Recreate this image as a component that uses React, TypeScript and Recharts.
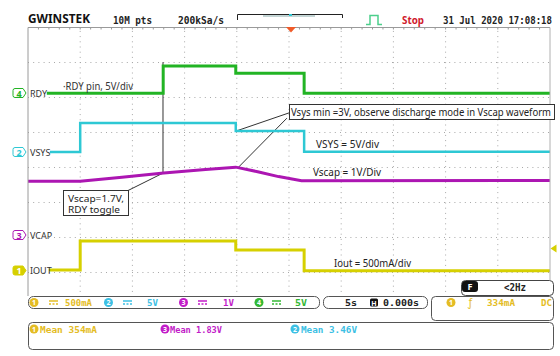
import React from "react";
import { ComposedChart, Line, XAxis, YAxis, ReferenceLine } from "recharts";

// time in seconds (5 s/div, trigger at 0), level in screen divisions (0 = bottom of graticule)
const rdyTime = [-23.2, -12.05, -12.05, -5.1, -5.1, 1.45, 1.45, 25];
const rdyLevel = [6.12, 6.12, 6.9, 6.9, 6.69, 6.69, 6.12, 6.12];

const vsysTime = [-22.9, -20, -20, -5.1, -5.1, 1.45, 1.45, 25];
const vsysLevel = [4.44, 4.44, 5.27, 5.27, 5.04, 5.04, 4.45, 4.45];

const vcapTime = [-25, -20, -16, -12, -8, -5.1, -3, -1, 1.2, 25];
const vcapLevel = [3.61, 3.61, 3.72, 3.84, 3.94, 4.01, 3.88, 3.74, 3.62, 3.63];

const ioutTime = [-23, -20, -20, -5.1, -5.1, 1.45, 1.45, 25];
const ioutLevel = [1.07, 1.07, 1.9, 1.9, 1.64, 1.64, 1.05, 1.05];

const gridTimes = [-20, -15, -10, -5, 0, 5, 10, 15, 20];
const gridLevels = [1, 2, 3, 4, 5, 6, 7];

const toRows = (t: number[], v: number[]) => t.map((x, i) => ({ t: x, v: v[i] }));

const GREEN = "#22b424";
const CYAN = "#2ec8d4";
const MAGENTA = "#ac16b2";
const YELLOW = "#d6d000";
const TXT_Y = "#e4bc24";
const TXT_C = "#3cc0e4";
const TXT_M = "#c21cc8";
const TXT_G = "#34b834";

const MONO = "'DejaVu Sans Mono', monospace";
const SANS = "'Noto Sans', sans-serif";

function T(p: {
  x: number; y: number; w?: number; size?: number; fill?: string;
  bold?: boolean; family?: string; anchor?: string; children: React.ReactNode;
}) {
  return (
    <text
      x={p.x}
      y={p.y}
      fontSize={p.size ?? 10}
      fill={p.fill ?? "#222"}
      fontWeight={p.bold ? "bold" : "normal"}
      fontFamily={p.family ?? MONO}
      textAnchor={p.anchor ?? "start"}
      textLength={p.w}
      lengthAdjust={p.w ? "spacingAndGlyphs" : undefined}
    >
      {p.children}
    </text>
  );
}

function Tag({ y, color, label, filled, name }: { y: number; color: string; label: string; filled?: boolean; name: string }) {
  const x = 13;
  const h = 9;
  const d = `M${x + 2},${y - h / 2} H${x + 10} L${x + 13},${y} L${x + 10},${y + h / 2} H${x + 2} Q${x},${y + h / 2} ${x},${y + h / 2 - 2} V${y - h / 2 + 2} Q${x},${y - h / 2} ${x + 2},${y - h / 2} Z`;
  return (
    <g>
      <path d={d} fill={filled ? color : "#fff"} stroke={color} strokeWidth={1} />
      <T x={x + 6} y={y + 3.5} size={9} fill={filled ? "#fff" : color} bold anchor="middle" family={SANS}>{label}</T>
      <T x={x + 17} y={y + 3.5} size={9} fill="#333" family={SANS}>{name}</T>
    </g>
  );
}

function Badge({ x, y, color, n }: { x: number; y: number; color: string; n: string }) {
  return (
    <g>
      <circle cx={x} cy={y} r={4.5} fill={color} />
      <T x={x} y={y + 2.5} size={7} fill="#fff" bold anchor="middle" family={SANS}>{n}</T>
    </g>
  );
}

function Dc({ x, y, color }: { x: number; y: number; color: string }) {
  return (
    <g stroke={color} strokeWidth={1.5}>
      <line x1={x} x2={x + 9} y1={y - 1.5} y2={y - 1.5} />
      <line x1={x} x2={x + 9} y1={y + 1.5} y2={y + 1.5} strokeDasharray="2 1.5" />
    </g>
  );
}

function Overlay() {
  const topTicks: number[] = [];
  for (let i = 1; i < 50; i++) topTicks.push(28 + i * 10.44);
  return (
    <svg width={560} height={356} style={{ position: "absolute", left: 0, top: 0, pointerEvents: "none" }}>
      {/* graticule frame */}
      <line x1={28} x2={550} y1={27.5} y2={27.5} stroke="#9a9a9a" />
      <line x1={28} x2={28} y1={27.5} y2={296} stroke="#9a9a9a" />
      <line x1={550} x2={550} y1={27.5} y2={280} stroke="#b0b0b0" />
      {topTicks.map((x) => (
        <line key={x} x1={x} x2={x} y1={27.5} y2={29.5} stroke="#9a9a9a" />
      ))}

      {/* header */}
      <T x={28} y={23} w={62} size={12} bold family={SANS} fill="#111">GWINSTEK</T>
      <T x={113} y={23.5} w={39} size={10} bold>10M pts</T>
      <T x={178} y={23.5} w={46} size={10} bold>200kSa/s</T>
      <path d="M237.5,20 V14.5 H342.5 V18" fill="none" stroke="#222" strokeWidth={1} />
      <line x1={263} x2={315} y1={16} y2={16} stroke="#8aa" strokeWidth={1} />
      <rect x={289} y={14} width={3} height={2} fill={CYAN} />
      <path d="M366,24.5 H370 V15.5 H378 V24.5 H382" fill="none" stroke="#4ccf8c" strokeWidth={1.5} />
      <T x={402} y={23.5} w={22} size={11} bold fill="#d01a2c" family={SANS}>Stop</T>
      <T x={443} y={23.5} w={109} size={10} bold>31 Jul 2020 17:08:18</T>
      <path d="M286,27 L296,27 L291,32.5 Z" fill="#f05a28" />

      {/* channel ground tags */}
      <Tag y={93} color={GREEN} label="4" name="RDY" />
      <Tag y={152} color={CYAN} label="2" name="VSYS" />
      <Tag y={235} color={MAGENTA} label="3" name="VCAP" />
      <Tag y={270.5} color={YELLOW} label="1" name="IOUT" filled />
      <path d="M556.5,244.5 L550.5,248.5 L556.5,252.5 Z" fill={YELLOW} />

      {/* annotations */}
      <T x={63} y={90} w={70} size={11} family={SANS} fill="#333">·RDY pin, 5V/div</T>
      <rect x={289.5} y={104.5} width={265} height={15} fill="#fff" stroke="#333" />
      <T x={291} y={116} w={260} size={10.5} family={SANS} fill="#222">Vsys min =3V, observe discharge mode in Vscap waveform</T>
      <T x={316} y={148} w={63} size={11} family={SANS} fill="#222">VSYS = 5V/div</T>
      <T x={313} y={176} w={68} size={11} family={SANS} fill="#222">Vscap = 1V/Div</T>
      <rect x={63.5} y={190.5} width={65} height={25} fill="#fff" stroke="#333" />
      <T x={68} y={201.5} w={56} size={9.5} family={SANS} fill="#222">Vscap=1.7V,</T>
      <T x={68} y={212.5} w={52} size={9.5} family={SANS} fill="#222">RDY toggle</T>
      <T x={334} y={267} w={77} size={11} family={SANS} fill="#222">Iout = 500mA/div</T>

      {/* trigger frequency */}
      <rect x={461.5} y={280.5} width={92} height={15} rx={4} fill="#fff" stroke="#444" />
      <rect x={462} y={281} width={16} height={11} rx={3} fill="#111" />
      <T x={470} y={290} size={9} bold fill="#fff" anchor="middle" family={SANS}>F</T>
      <T x={504} y={291} w={22} size={10} bold>&lt;2Hz</T>

      {/* status bar */}
      <rect x={28.5} y={296.5} width={291} height={12} rx={5} fill="#fff" stroke="#555" />
      <Badge x={34} y={302.5} color={TXT_Y} n="1" />
      <Dc x={49} y={302.5} color={TXT_Y} />
      <T x={65} y={306} w={27} size={9.5} bold fill={TXT_Y}>500mA</T>
      <Badge x={108.5} y={302.5} color={TXT_C} n="2" />
      <Dc x={123} y={302.5} color={TXT_C} />
      <T x={147} y={306} w={11} size={9.5} bold fill={TXT_C}>5V</T>
      <Badge x={183.5} y={302.5} color={TXT_M} n="3" />
      <Dc x={198} y={302.5} color={TXT_M} />
      <T x={223} y={306} w={11} size={9.5} bold fill={TXT_M}>1V</T>
      <Badge x={259} y={302.5} color={TXT_G} n="4" />
      <Dc x={272} y={302.5} color={TXT_G} />
      <T x={295} y={306} w={12} size={9.5} bold fill={TXT_G}>5V</T>

      <rect x={323.5} y={296.5} width={104} height={12} rx={5} fill="#fff" stroke="#555" />
      <T x={345} y={306} w={12} size={9.5} bold>5s</T>
      <rect x={370} y={298.5} width={8} height={8} rx={1.5} fill="#111" />
      <T x={374} y={305.5} size={7} bold fill="#fff" anchor="middle" family={SANS}>H</T>
      <T x={383} y={306} w={36} size={9.5} bold>0.000s</T>

      <rect x={431.5} y={296.5} width={122} height={24} rx={4} fill="#fff" stroke="#555" />
      <Badge x={451} y={302.5} color={TXT_Y} n="1" />
      <T x={468} y={306} size={10} fill={TXT_Y} family={SANS}>ƒ</T>
      <T x={487} y={306} w={28} size={9.5} bold fill={TXT_Y}>334mA</T>
      <T x={541} y={306} w={11} size={9.5} bold fill={TXT_Y}>DC</T>

      {/* measurements */}
      <rect x={28.5} y={322.5} width={525} height={27} rx={4} fill="#fff" stroke="#555" />
      <Badge x={34} y={329} color={TXT_Y} n="1" />
      <T x={40} y={333} w={57} size={9.5} bold fill={TXT_Y}>Mean 354mA</T>
      <Badge x={165} y={329} color={TXT_M} n="3" />
      <T x={170} y={333} w={52} size={9.5} bold fill={TXT_M}>Mean 1.83V</T>
      <Badge x={295} y={329} color={TXT_C} n="2" />
      <T x={301} y={333} w={56} size={9.5} bold fill={TXT_C}>Mean 3.46V</T>
    </svg>
  );
}

export default function App() {
  return (
    <div style={{ position: "absolute", left: 0, top: 0, width: 560, height: 356, background: "#fff" }}>
      <ComposedChart
        width={560}
        height={356}
        margin={{ top: 27.5, right: 10, bottom: 48.5, left: 28 }}
      >
        <XAxis dataKey="t" type="number" domain={[-25, 25]} allowDataOverflow hide />
        <YAxis type="number" domain={[0, 8]} allowDataOverflow hide />
        {gridTimes.map((t) => (
          <ReferenceLine key={"gx" + t} x={t} stroke="#a8a8a8" strokeDasharray="1 4.2" />
        ))}
        {gridLevels.map((v) => (
          <ReferenceLine key={"gy" + v} y={v} stroke="#a8a8a8" strokeDasharray="1 4.2" />
        ))}
        {/* callout leader lines */}
        <ReferenceLine segment={[{ x: -12.07, y: 7.01 }, { x: -12.07, y: 3.84 }]} stroke="#333" />
        <ReferenceLine segment={[{ x: -15.5, y: 3.33 }, { x: -12.07, y: 3.84 }]} stroke="#333" />
        <ReferenceLine segment={[{ x: 0, y: 5.56 }, { x: -5.08, y: 5.04 }]} stroke="#333" />
        <ReferenceLine segment={[{ x: -0.2, y: 5.41 }, { x: -4.9, y: 3.99 }]} stroke="#333" />
        <Line data={toRows(vcapTime, vcapLevel)} dataKey="v" type="linear" stroke={MAGENTA} strokeWidth={3} dot={false} isAnimationActive={false} />
        <Line data={toRows(ioutTime, ioutLevel)} dataKey="v" type="linear" stroke={YELLOW} strokeWidth={3} dot={false} isAnimationActive={false} />
        <Line data={toRows(vsysTime, vsysLevel)} dataKey="v" type="linear" stroke={CYAN} strokeWidth={2.5} dot={false} isAnimationActive={false} />
        <Line data={toRows(rdyTime, rdyLevel)} dataKey="v" type="linear" stroke={GREEN} strokeWidth={3} dot={false} isAnimationActive={false} />
      </ComposedChart>
      <Overlay />
    </div>
  );
}
